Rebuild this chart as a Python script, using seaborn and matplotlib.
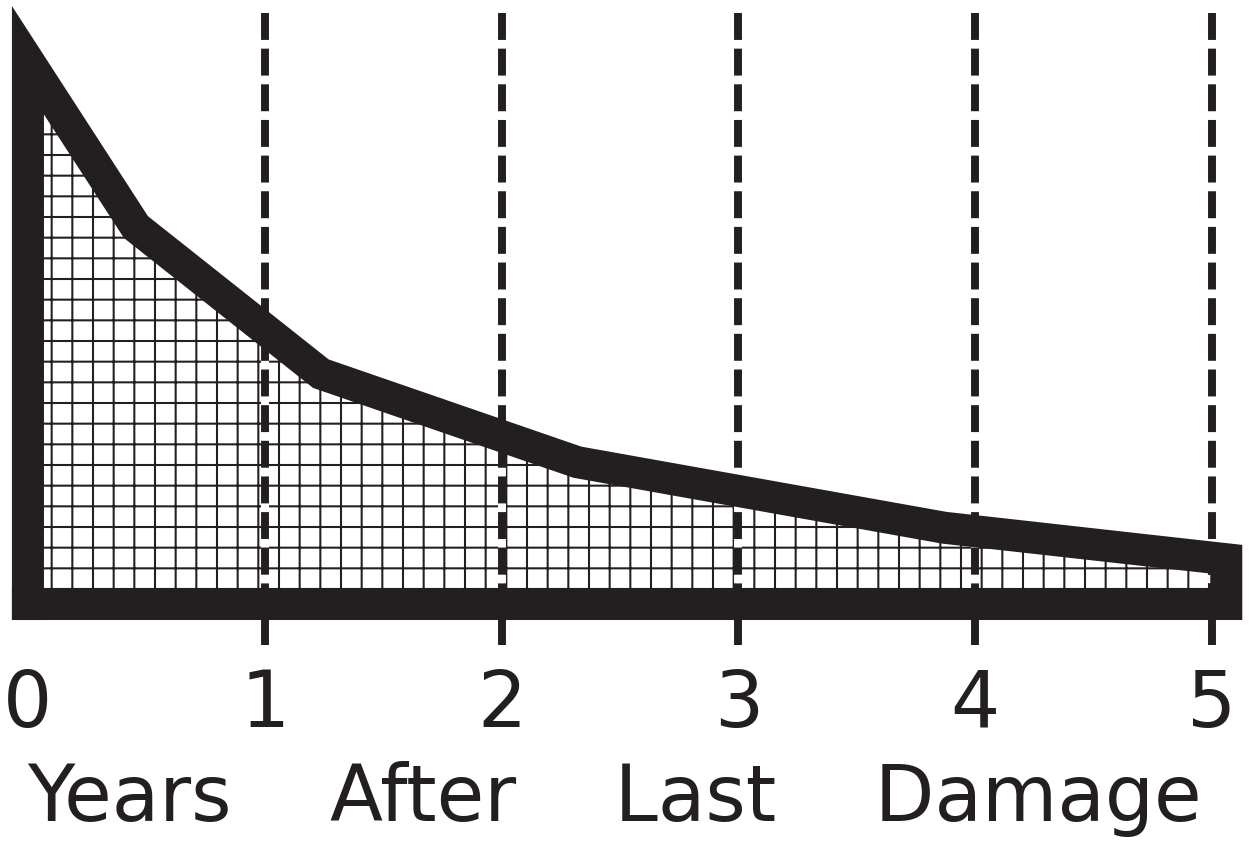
import numpy as np
import pandas as pd
import matplotlib
matplotlib.use("Agg")
import matplotlib.pyplot as plt
import seaborn as sns

# Values (relative level, 100 = level right after damage)
years = [0.0, 0.456, 1.237, 2.32, 3.87, 5.06]
level = [102.0, 70.7, 43.2, 26.6, 14.3, 8.4]
tick_years = [0, 1, 2, 3, 4, 5]
tick_labels = ["0", "1", "2", "3", "4", "5"]
marker_years = [1, 2, 3, 4, 5]
x_title = "Years    After    Last    Damage"

ink = "#231f20"
dpi = 124

sns.set_theme(style="white")
plt.rcParams["font.family"] = ["DejaVu Sans"]
plt.rcParams["hatch.linewidth"] = 1.2
plt.rcParams["hatch.color"] = ink

fig = plt.figure(figsize=(1249 / dpi, 841 / dpi), dpi=dpi)
ax = fig.add_axes([0, 0.233, 1, 0.767])

# hatched area under the curve
ax.fill_between(years, level, 0, facecolor="white", edgecolor=ink,
                hatch="+", linewidth=0, zorder=1)

# dashed year markers, white gaps over the hatch
for t in marker_years:
    ax.axvline(t, ymin=0.98, ymax=0.0, color=ink, lw=4.6,
               linestyle=(0, (3.4, 1.1)), gapcolor="white", zorder=2)

# thick closed outline: left edge, curve, right edge, baseline
outline = pd.DataFrame({
    "x": [years[0]] + years + [years[-1], years[0]],
    "y": [0.0] + level + [0.0, 0.0],
})
sns.lineplot(data=outline, x="x", y="y", sort=False, estimator=None,
             color=ink, lw=18.6, solid_joinstyle="miter",
             solid_capstyle="projecting", ax=ax, zorder=3)

ax.set_xlim(-0.118, 5.156)
ax.set_ylim(-7.7, 113.3)
ax.set_xticks(tick_years)
ax.set_xticklabels(tick_labels)
ax.set_yticks([])
ax.tick_params(axis="x", length=0, pad=13, labelsize=45, colors=ink)
ax.set_xlabel(x_title, fontsize=45, color=ink, labelpad=10)
ax.xaxis.label.set_x(0.492)
ax.set_ylabel("")
sns.despine(ax=ax, left=True, bottom=True)

fig.savefig("out.png", dpi=dpi)
